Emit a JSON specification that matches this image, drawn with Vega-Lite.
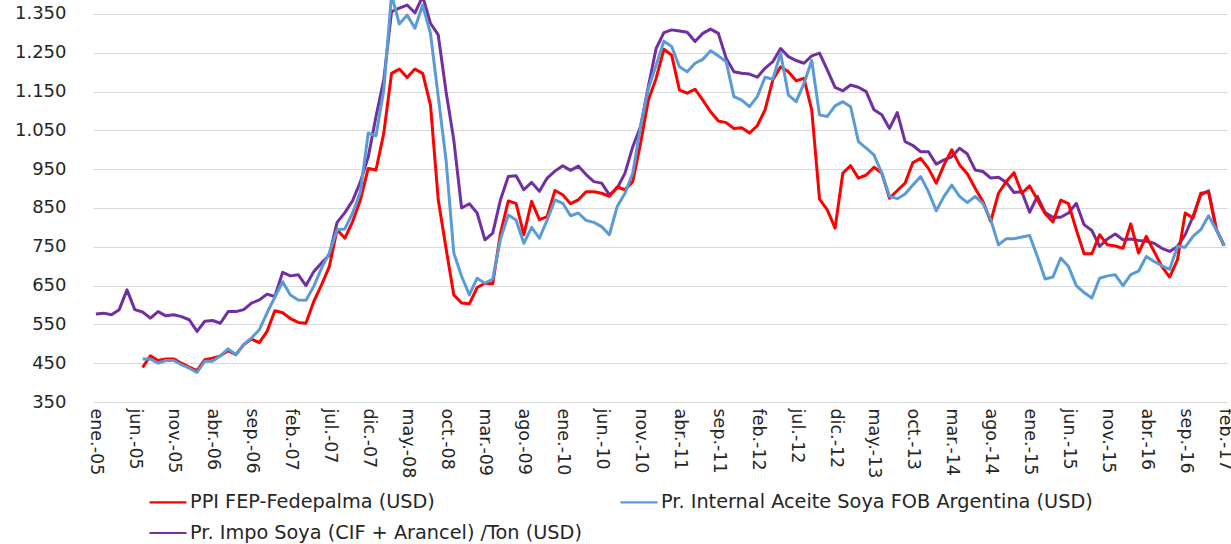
{
  "$schema": "https://vega.github.io/schema/vega-lite/v6.json",
  "autosize": {"type": "none"},
  "padding": {"left": 93, "top": 0, "right": 4, "bottom": 142},
  "width": 1134,
  "height": 402,
  "background": "white",
  "config": {
    "view": {"stroke": null},
    "font": "DejaVu Sans"
  },
  "data": {
    "values": [
      {"m":"ene.-05","p":null,"a":null,"s":577},
      {"m":"feb.-05","p":null,"a":null,"s":579},
      {"m":"mar.-05","p":null,"a":null,"s":575},
      {"m":"abr.-05","p":null,"a":null,"s":588},
      {"m":"may.-05","p":null,"a":null,"s":639},
      {"m":"jun.-05","p":null,"a":null,"s":588},
      {"m":"jul.-05","p":439,"a":461,"s":582},
      {"m":"ago.-05","p":469,"a":461,"s":566},
      {"m":"sep.-05","p":457,"a":450,"s":583},
      {"m":"oct.-05","p":461,"a":457,"s":572},
      {"m":"nov.-05","p":461,"a":457,"s":575},
      {"m":"dic.-05","p":450,"a":446,"s":570},
      {"m":"ene.-06","p":440,"a":437,"s":562},
      {"m":"feb.-06","p":431,"a":426,"s":532},
      {"m":"mar.-06","p":459,"a":455,"s":558},
      {"m":"abr.-06","p":463,"a":455,"s":560},
      {"m":"may.-06","p":469,"a":469,"s":553},
      {"m":"jun.-06","p":482,"a":487,"s":583},
      {"m":"jul.-06","p":472,"a":472,"s":583},
      {"m":"ago.-06","p":498,"a":498,"s":588},
      {"m":"sep.-06","p":512,"a":515,"s":605},
      {"m":"oct.-06","p":503,"a":536,"s":613},
      {"m":"nov.-06","p":532,"a":580,"s":628},
      {"m":"dic.-06","p":585,"a":620,"s":622},
      {"m":"ene.-07","p":580,"a":660,"s":684},
      {"m":"feb.-07","p":565,"a":626,"s":675},
      {"m":"mar.-07","p":555,"a":613,"s":678},
      {"m":"abr.-07","p":553,"a":612,"s":650},
      {"m":"may.-07","p":609,"a":648,"s":686},
      {"m":"jun.-07","p":652,"a":695,"s":708},
      {"m":"jul.-07","p":699,"a":734,"s":729},
      {"m":"ago.-07","p":794,"a":794,"s":813},
      {"m":"sep.-07","p":772,"a":796,"s":838},
      {"m":"oct.-07","p":815,"a":837,"s":869},
      {"m":"nov.-07","p":871,"a":892,"s":918},
      {"m":"dic.-07","p":952,"a":1043,"s":981},
      {"m":"ene.-08","p":948,"a":1036,"s":1086},
      {"m":"feb.-08","p":1043,"a":1154,"s":1180},
      {"m":"mar.-08","p":1197,"a":1400,"s":1356},
      {"m":"abr.-08","p":1208,"a":1324,"s":1365},
      {"m":"may.-08","p":1186,"a":1347,"s":1373},
      {"m":"jun.-08","p":1208,"a":1313,"s":1353},
      {"m":"jul.-08","p":1197,"a":1373,"s":1395},
      {"m":"ago.-08","p":1116,"a":1300,"s":1326},
      {"m":"sep.-08","p":871,"a":1137,"s":1296},
      {"m":"oct.-08","p":746,"a":974,"s":1150},
      {"m":"nov.-08","p":626,"a":734,"s":1025},
      {"m":"dic.-08","p":605,"a":674,"s":850},
      {"m":"ene.-09","p":603,"a":626,"s":861},
      {"m":"feb.-09","p":645,"a":669,"s":837},
      {"m":"mar.-09","p":656,"a":656,"s":768},
      {"m":"abr.-09","p":655,"a":667,"s":785},
      {"m":"may.-09","p":785,"a":770,"s":871},
      {"m":"jun.-09","p":868,"a":832,"s":931},
      {"m":"jul.-09","p":862,"a":819,"s":933},
      {"m":"ago.-09","p":781,"a":759,"s":897},
      {"m":"sep.-09","p":867,"a":800,"s":916},
      {"m":"oct.-09","p":820,"a":772,"s":893},
      {"m":"nov.-09","p":828,"a":819,"s":927},
      {"m":"dic.-09","p":895,"a":871,"s":945},
      {"m":"ene.-10","p":884,"a":862,"s":959},
      {"m":"feb.-10","p":861,"a":830,"s":947},
      {"m":"mar.-10","p":871,"a":837,"s":958},
      {"m":"abr.-10","p":892,"a":818,"s":936},
      {"m":"may.-10","p":892,"a":813,"s":918},
      {"m":"jun.-10","p":888,"a":802,"s":914},
      {"m":"jul.-10","p":880,"a":781,"s":884},
      {"m":"ago.-10","p":904,"a":854,"s":901},
      {"m":"sep.-10","p":897,"a":888,"s":940},
      {"m":"oct.-10","p":918,"a":940,"s":1008},
      {"m":"nov.-10","p":1017,"a":1060,"s":1060},
      {"m":"dic.-10","p":1128,"a":1158,"s":1163},
      {"m":"ene.-11","p":1184,"a":1218,"s":1261},
      {"m":"feb.-11","p":1259,"a":1280,"s":1302},
      {"m":"mar.-11","p":1244,"a":1266,"s":1309},
      {"m":"abr.-11","p":1154,"a":1214,"s":1306},
      {"m":"may.-11","p":1146,"a":1201,"s":1303},
      {"m":"jun.-11","p":1156,"a":1223,"s":1279},
      {"m":"jul.-11","p":1128,"a":1233,"s":1300},
      {"m":"ago.-11","p":1098,"a":1255,"s":1311},
      {"m":"sep.-11","p":1074,"a":1242,"s":1300},
      {"m":"oct.-11","p":1070,"a":1227,"s":1236},
      {"m":"nov.-11","p":1055,"a":1137,"s":1201},
      {"m":"dic.-11","p":1057,"a":1128,"s":1197},
      {"m":"ene.-12","p":1043,"a":1111,"s":1195},
      {"m":"feb.-12","p":1062,"a":1137,"s":1187},
      {"m":"mar.-12","p":1103,"a":1187,"s":1210},
      {"m":"abr.-12","p":1180,"a":1182,"s":1227},
      {"m":"may.-12","p":1214,"a":1249,"s":1261},
      {"m":"jun.-12","p":1201,"a":1141,"s":1240},
      {"m":"jul.-12","p":1178,"a":1124,"s":1230},
      {"m":"ago.-12","p":1184,"a":1171,"s":1223},
      {"m":"sep.-12","p":1103,"a":1230,"s":1242},
      {"m":"oct.-12","p":873,"a":1090,"s":1249},
      {"m":"nov.-12","p":845,"a":1086,"s":1206},
      {"m":"dic.-12","p":798,"a":1113,"s":1161},
      {"m":"ene.-13","p":940,"a":1124,"s":1152},
      {"m":"feb.-13","p":959,"a":1111,"s":1167},
      {"m":"mar.-13","p":927,"a":1021,"s":1161},
      {"m":"abr.-13","p":935,"a":1004,"s":1150},
      {"m":"may.-13","p":955,"a":987,"s":1103},
      {"m":"jun.-13","p":940,"a":940,"s":1090},
      {"m":"jul.-13","p":875,"a":880,"s":1055},
      {"m":"ago.-13","p":895,"a":874,"s":1096},
      {"m":"sep.-13","p":914,"a":886,"s":1021},
      {"m":"oct.-13","p":967,"a":909,"s":1011},
      {"m":"nov.-13","p":978,"a":931,"s":995},
      {"m":"dic.-13","p":952,"a":892,"s":995},
      {"m":"ene.-14","p":914,"a":843,"s":963},
      {"m":"feb.-14","p":961,"a":880,"s":974},
      {"m":"mar.-14","p":1000,"a":909,"s":982},
      {"m":"abr.-14","p":961,"a":880,"s":1004},
      {"m":"may.-14","p":938,"a":864,"s":989},
      {"m":"jun.-14","p":901,"a":880,"s":948},
      {"m":"jul.-14","p":867,"a":862,"s":944},
      {"m":"ago.-14","p":815,"a":820,"s":927},
      {"m":"sep.-14","p":888,"a":755,"s":929},
      {"m":"oct.-14","p":918,"a":771,"s":916},
      {"m":"nov.-14","p":941,"a":771,"s":890},
      {"m":"dic.-14","p":888,"a":775,"s":892},
      {"m":"ene.-15","p":907,"a":779,"s":839},
      {"m":"feb.-15","p":871,"a":725,"s":880},
      {"m":"mar.-15","p":835,"a":667,"s":838},
      {"m":"abr.-15","p":814,"a":672,"s":826},
      {"m":"may.-15","p":870,"a":721,"s":826},
      {"m":"jun.-15","p":861,"a":699,"s":837},
      {"m":"jul.-15","p":794,"a":650,"s":862},
      {"m":"ago.-15","p":732,"a":632,"s":807},
      {"m":"sep.-15","p":732,"a":618,"s":792},
      {"m":"oct.-15","p":781,"a":669,"s":751},
      {"m":"nov.-15","p":755,"a":675,"s":770},
      {"m":"dic.-15","p":752,"a":678,"s":783},
      {"m":"ene.-16","p":746,"a":650,"s":768},
      {"m":"feb.-16","p":809,"a":678,"s":770},
      {"m":"mar.-16","p":734,"a":687,"s":766},
      {"m":"abr.-16","p":777,"a":725,"s":764},
      {"m":"may.-16","p":738,"a":712,"s":759},
      {"m":"jun.-16","p":699,"a":701,"s":746},
      {"m":"jul.-16","p":672,"a":692,"s":738},
      {"m":"ago.-16","p":716,"a":751,"s":751},
      {"m":"sep.-16","p":837,"a":749,"s":781},
      {"m":"oct.-16","p":824,"a":777,"s":828},
      {"m":"nov.-16","p":888,"a":794,"s":884},
      {"m":"dic.-16","p":891,"a":830,"s":894},
      {"m":"ene.-17","p":794,"a":794,"s":795},
      {"m":"feb.-17","p":753,"a":753,"s":753}
    ]
  },
  "transform": [
    {"fold": ["p", "a", "s"], "as": ["serie", "v"]},
    {"filter": "isValid(datum.v)"}
  ],
  "mark": {"type": "line", "strokeWidth": 3, "clip": true, "strokeJoin": "round"},
  "encoding": {
    "x": {
      "field": "m",
      "type": "ordinal",
      "sort": null,
      "scale": {"type": "point", "padding": 0.37},
      "axis": {
        "title": null,
        "values": ["ene.-05","jun.-05","nov.-05","abr.-06","sep.-06","feb.-07","jul.-07","dic.-07","may.-08","oct.-08","mar.-09","ago.-09","ene.-10","jun.-10","nov.-10","abr.-11","sep.-11","feb.-12","jul.-12","dic.-12","may.-13","oct.-13","mar.-14","ago.-14","ene.-15","jun.-15","nov.-15","abr.-16","sep.-16","feb.-17"],
        "labelAngle": 90,
        "labelFontSize": 17.5,
        "labelColor": "#262626",
        "labelPadding": 6,
        "labelOverlap": false,
        "ticks": false,
        "domain": false,
        "grid": false
      }
    },
    "y": {
      "field": "v",
      "type": "quantitative",
      "scale": {"domain": [350, 1386], "nice": false, "zero": false},
      "axis": {
        "title": null,
        "values": [350, 450, 550, 650, 750, 850, 950, 1050, 1150, 1250, 1350],
        "labelExpr": "replace(format(datum.value, ','), ',', '.')",
        "labelFontSize": 18,
        "labelColor": "#262626",
        "labelPadding": 27,
        "ticks": false,
        "domain": false,
        "grid": true,
        "gridColor": "#D9D9D9",
        "gridWidth": 1.2
      }
    },
    "color": {
      "field": "serie",
      "type": "nominal",
      "scale": {"domain": ["p", "a", "s"], "range": ["#FF0000", "#5B9BD5", "#7030A0"]},
      "legend": {
        "title": null,
        "orient": "none",
        "legendX": 55,
        "legendY": 482,
        "direction": "horizontal",
        "columns": 2,
        "symbolType": "stroke",
        "symbolSize": 1369,
        "symbolStrokeWidth": 2.2,
        "labelFontSize": 19.3,
        "labelColor": "#262626",
        "labelOffset": 2,
        "rowPadding": 0,
        "columnPadding": 27,
        "labelLimit": 600,
        "padding": 0,
        "labelExpr": "datum.label == 'p' ? 'PPI FEP-Fedepalma (USD)' : datum.label == 'a' ? 'Pr. Internal Aceite Soya FOB Argentina (USD)' : 'Pr. Impo Soya (CIF + Arancel) /Ton  (USD)'"
      }
    }
  }
}
